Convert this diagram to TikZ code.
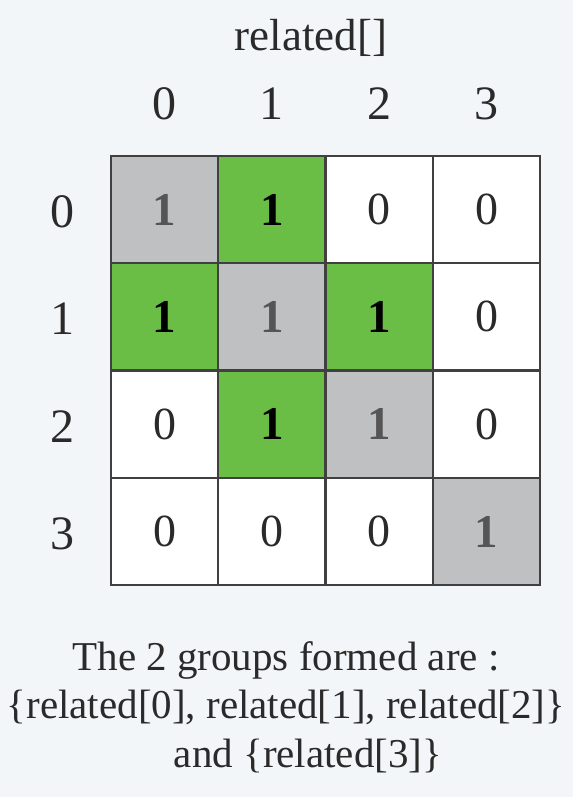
\documentclass[tikz,border=0pt]{standalone}
\usepackage{fontspec}
\setmainfont{Liberation Serif}
\definecolor{bgcol}{HTML}{F3F6F8}
\definecolor{diagcol}{HTML}{BFC0C2}
\definecolor{linkcol}{HTML}{6ABD45}
\definecolor{gridcol}{HTML}{404040}
\definecolor{diagtext}{HTML}{555555}
\definecolor{zerotext}{HTML}{2A2A2A}
\begin{document}
\begin{tikzpicture}[x=1pt, y=-1pt,
	cell/.style={shape=rectangle,
				 draw=gridcol,
				 line width=2.4pt,
				 minimum size=107.3pt,
				 inner sep=0pt},
	diagcell/.style={cell, fill=diagcol, text=diagtext,
				 font=\fontsize{47}{47}\selectfont\bfseries},
	linkcell/.style={cell, fill=linkcol, text=black,
				 font=\fontsize{47}{47}\selectfont\bfseries},
	zerocell/.style={cell, fill=white, text=zerotext,
				 font=\fontsize{46}{46}\selectfont},
	idx/.style={text=zerotext, font=\fontsize{48}{48}\selectfont},
	caption/.style={anchor=base, text=zerotext, font=\fontsize{41}{48}\selectfont}]
	\fill[bgcol] (0,0) rectangle (573,797);
	\useasboundingbox (0,0) rectangle (573,797);

	\draw (311,51) node[caption, font=\fontsize{45}{48}\selectfont](title){related[]};

	% the matrix
	\foreach \r/\c/\k/\v in {0/0/diagcell/1, 0/1/linkcell/1, 0/2/zerocell/0, 0/3/zerocell/0,
							 1/0/linkcell/1, 1/1/diagcell/1, 1/2/linkcell/1, 1/3/zerocell/0,
							 2/0/zerocell/0, 2/1/linkcell/1, 2/2/diagcell/1, 2/3/zerocell/0,
							 3/0/zerocell/0, 3/1/zerocell/0, 3/2/zerocell/0, 3/3/diagcell/1}
		\draw ({164.6+107.3*\c},{209.6+107.3*\r}) node[\k](c\r\c){\v};

	% indices
	\foreach \i in {0,...,3} {
		\draw ({164.6+107.3*\i},120) node[idx, anchor=base](col\i){\i};
		\draw (62,{211.6+107.3*\i}) node[idx](row\i){\i};
	}

	\draw (286,670) node[caption](line1){The 2 groups formed are :};
	\draw (286,718) node[caption](line2){\{related[0], related[1], related[2]\}};
	\draw (308,767) node[caption](line3){and \{related[3]\}};
\end{tikzpicture}
\end{document}
